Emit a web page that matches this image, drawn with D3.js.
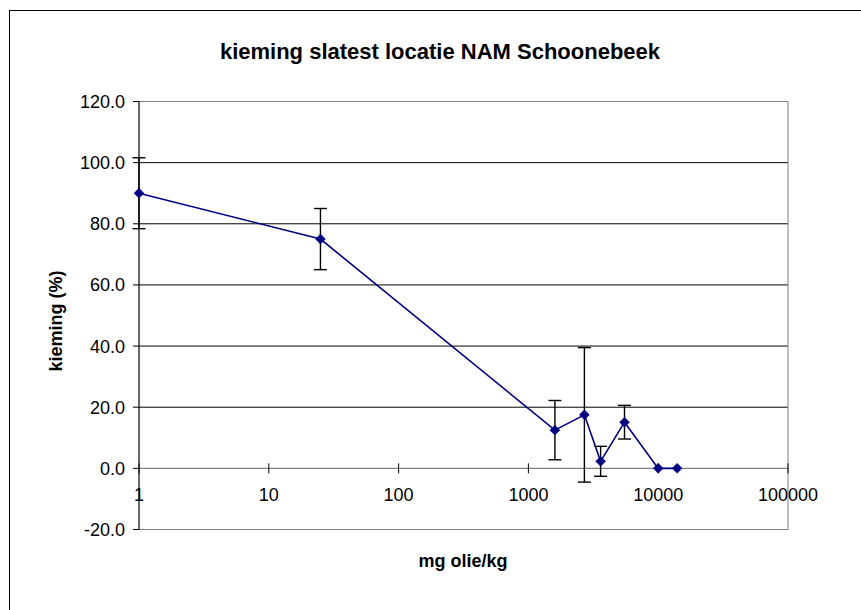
<!DOCTYPE html>
<html>
<head>
<meta charset="utf-8">
<script src="https://cdn.jsdelivr.net/npm/d3@7"></script>
<style>
  html, body { margin: 0; padding: 0; background: #fff; }
  svg { display: block; font-family: "Liberation Sans", Arial, sans-serif; }
</style>
</head>
<body>
<svg id="chart" width="861" height="610"></svg>
<script>
const titleText = "kieming slatest locatie NAM Schoonebeek";
const xTitle = "mg olie/kg";
const yTitle = "kieming (%)";
const doses = [1, 25, 1600, 2700, 3600, 5500, 10000, 14000];
const kieming = [90, 75, 12.5, 17.5, 2.3, 15.1, 0, 0];
const errors = [11.6, 10, 9.7, 22, 4.9, 5.5, 0, 0];
const xTicks = [1, 10, 100, 1000, 10000, 100000];
const yTicks = [-20, 0, 20, 40, 60, 80, 100, 120];

const svg = d3.select("#chart");
const x = d3.scaleLog().domain([1, 100000]).range([139, 788]);
const y = d3.scaleLinear().domain([-20, 120]).range([529.5, 101.5]);
const data = doses.map((d, i) => ({ x: d, y: kieming[i], e: errors[i] }));

// outer chart frame
svg.append("rect").attr("x", 9.5).attr("y", 10.5).attr("width", 900).attr("height", 700)
  .attr("fill", "#fff").attr("stroke", "#000").attr("stroke-width", 1);

// title
svg.append("text").attr("x", 440).attr("y", 59).attr("text-anchor", "middle")
  .attr("font-size", 22).attr("font-weight", "bold").text(titleText);

// gridlines
svg.append("g").selectAll("line").data(yTicks.filter(t => t > 0 && t < 120)).join("line")
  .attr("x1", 139).attr("x2", 788).attr("y1", d => y(d)).attr("y2", d => y(d))
  .attr("stroke", "#000").attr("stroke-width", 1);

// plot border (top, right, bottom)
svg.append("path")
  .attr("d", `M${x(1)},${y(120)}H${x(100000)}V${y(-20)}H${x(1)}`)
  .attr("fill", "none").attr("stroke", "#808080").attr("stroke-width", 1);

// x axis at y=0
svg.append("line").attr("x1", x(1)).attr("x2", x(100000)).attr("y1", y(0)).attr("y2", y(0))
  .attr("stroke", "#808080").attr("stroke-width", 1.2);
svg.append("g").selectAll("line").data(xTicks).join("line")
  .attr("x1", d => x(d)).attr("x2", d => x(d)).attr("y1", y(0) - 5).attr("y2", y(0) + 5)
  .attr("stroke", "#000").attr("stroke-width", 1);
svg.append("g").selectAll("text").data(xTicks).join("text")
  .attr("x", d => x(d)).attr("y", 501).attr("text-anchor", "middle")
  .attr("font-size", 18).text(d => String(d));

// y axis
svg.append("line").attr("x1", x(1)).attr("x2", x(1)).attr("y1", y(120)).attr("y2", y(-20))
  .attr("stroke", "#000").attr("stroke-width", 1.2);
svg.append("g").selectAll("line").data(yTicks).join("line")
  .attr("x1", x(1) - 6).attr("x2", x(1)).attr("y1", d => y(d)).attr("y2", d => y(d))
  .attr("stroke", "#000").attr("stroke-width", 1);
svg.append("g").selectAll("text").data(yTicks).join("text")
  .attr("x", 125).attr("y", d => y(d) + 6.5).attr("text-anchor", "end")
  .attr("font-size", 18).text(d => d.toFixed(1));

// axis titles
svg.append("text").attr("transform", "translate(62,321) rotate(-90)")
  .attr("text-anchor", "middle").attr("font-size", 18).attr("font-weight", "bold").text(yTitle);
svg.append("text").attr("x", 463).attr("y", 567).attr("text-anchor", "middle")
  .attr("font-size", 18).attr("font-weight", "bold").text(xTitle);

// series line
svg.append("path").datum(data)
  .attr("d", d3.line().x(d => x(d.x)).y(d => y(d.y)))
  .attr("fill", "none").attr("stroke", "#000080").attr("stroke-width", 1.6);

// error bars
const eb = svg.append("g").attr("stroke", "#000").attr("stroke-width", 1.4)
  .selectAll("g").data(data.filter(d => d.e > 0)).join("g");
eb.append("line").attr("x1", d => x(d.x)).attr("x2", d => x(d.x))
  .attr("y1", d => y(d.y + d.e)).attr("y2", d => y(d.y - d.e));
eb.append("line").attr("x1", d => x(d.x) - 6.5).attr("x2", d => x(d.x) + 6.5)
  .attr("y1", d => y(d.y + d.e)).attr("y2", d => y(d.y + d.e));
eb.append("line").attr("x1", d => x(d.x) - 6.5).attr("x2", d => x(d.x) + 6.5)
  .attr("y1", d => y(d.y - d.e)).attr("y2", d => y(d.y - d.e));

// markers
svg.append("g").selectAll("path").data(data).join("path")
  .attr("transform", d => `translate(${x(d.x)},${y(d.y)})`)
  .attr("d", "M0,-5L5,0L0,5L-5,0Z")
  .attr("fill", "#000080").attr("stroke", "#000080").attr("stroke-width", 0.5);
</script>
</body>
</html>
